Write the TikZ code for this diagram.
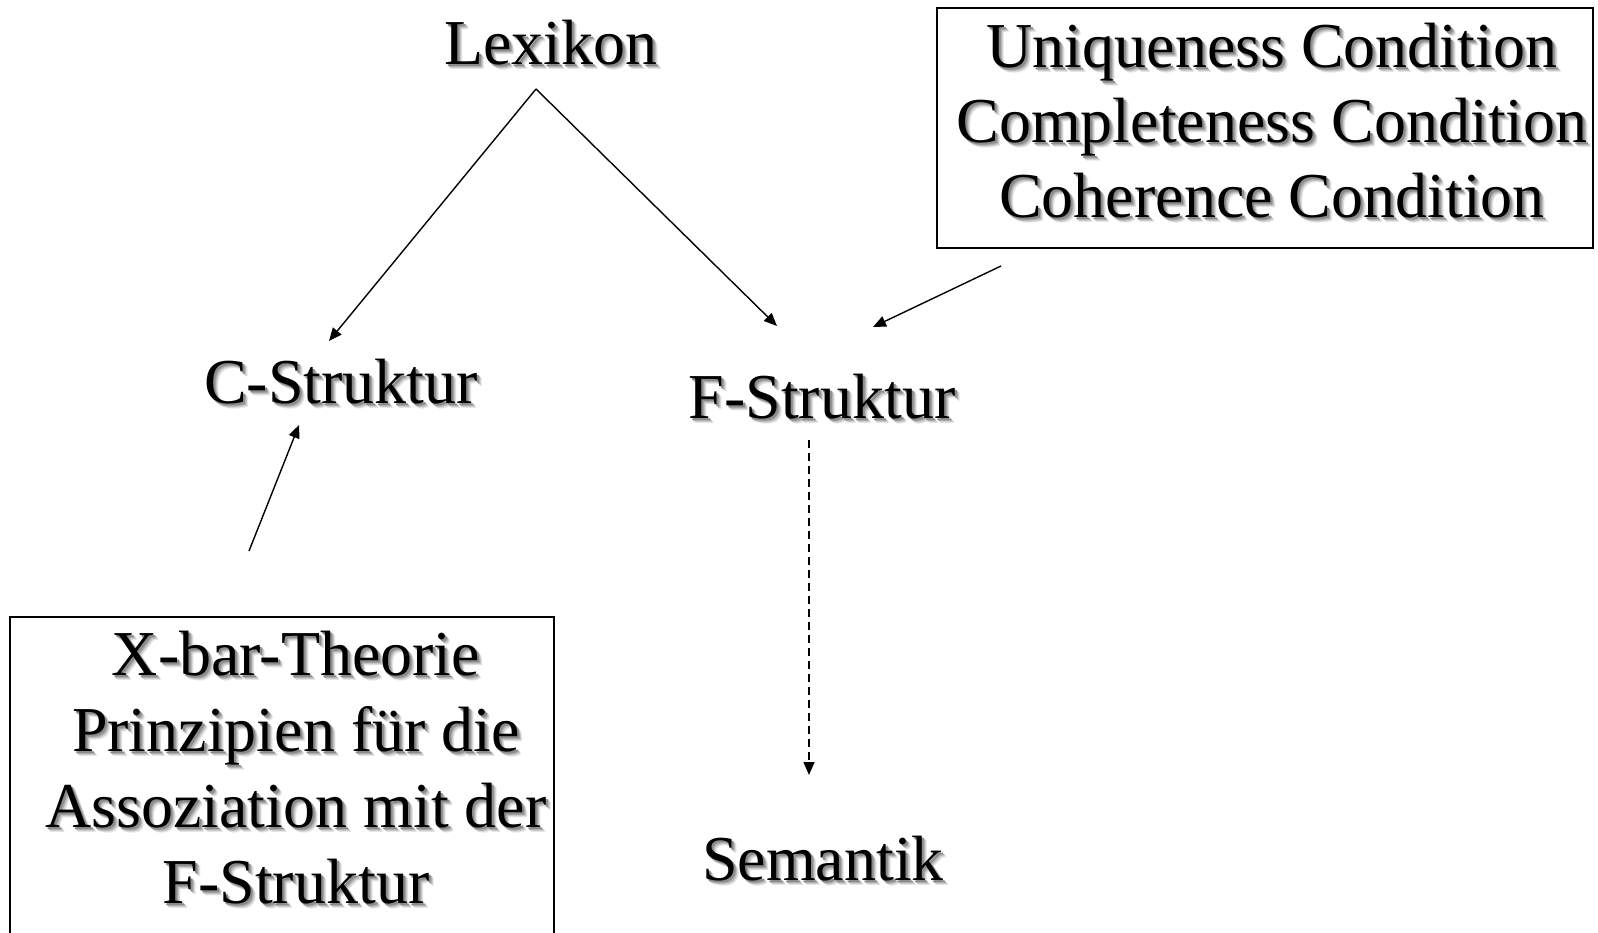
\documentclass[tikz,border=0pt]{standalone}
\usepackage{fontspec}
\setmainfont{Liberation Serif}
\usetikzlibrary{arrows.meta}
% text with a soft grey drop shadow, built from layered offset copies
\newcommand\shd[1]{%
  \rlap{\kern5pt\raisebox{-5pt}{\color{black!10}#1}}%
  \rlap{\kern4pt\raisebox{-4pt}{\color{black!20}#1}}%
  \rlap{\kern3pt\raisebox{-3pt}{\color{black!32}#1}}%
  \rlap{\kern2pt\raisebox{-2pt}{\color{black!45}#1}}%
  #1}
\tikzset{
  txt/.style={inner sep=0pt, font=\fontsize{64}{75}\selectfont, align=center},
  framebox/.style={draw, line width=1.6pt, inner sep=0pt},
  link/.style={line width=1.4pt, -{Triangle[length=13pt,width=11pt]}},
  dashlink/.style={link, dash pattern=on 8pt off 5pt}
}
\begin{document}
\begin{tikzpicture}[x=1pt, y=-1pt]
  \useasboundingbox (0,0) rectangle (1598,933);
  \clip (0,0) rectangle (1598,933);
  \fill[white] (0,0) rectangle (1598,933);

  % structure levels
  \node[txt, anchor=base] (lex) at (551,65) {\shd{Lexikon}};
  \node[txt, anchor=base] (cs)  at (341,403) {\shd{C-Struktur}};
  \node[txt, anchor=base] (fs)  at (822,418) {\shd{F-Struktur}};
  \node[txt, anchor=base] (sem) at (823,880) {\shd{Semantik}};

  % well-formedness conditions (base = baseline of the last line)
  \node[framebox, minimum width=656pt, minimum height=240pt] (cbox) at (1265,128) {};
  \node[txt, anchor=base] (ctext) at (1272,218)
    {\shd{Uniqueness Condition}\\\shd{Completeness Condition}\\\shd{Coherence Condition}};

  % principles of the c-structure
  \node[framebox, anchor=north west, minimum width=544pt, minimum height=360pt] (xbox) at (9,616) {};
  \node[txt, anchor=base, font=\fontsize{64}{76}\selectfont] (xtext) at (296,903)
    {\shd{X-bar-Theorie}\\\shd{Prinzipien für die}\\\shd{Assoziation mit der}\\\shd{F-Struktur}};

  % connector end points
  \coordinate (lexout) at (536,89);
  \coordinate (csin)   at (329,341);
  \coordinate (fsin)   at (777,326);
  \coordinate (cout)   at (1001,266);
  \coordinate (fsin2)  at (873,327);
  \coordinate (xout)   at (249,551);
  \coordinate (csin2)  at (299,425);
  \coordinate (fsout)  at (809,440);
  \coordinate (semin)  at (809,775);

  \draw[link] (lexout) -- (csin);
  \draw[link] (lexout) -- (fsin);
  \draw[link] (cout) -- (fsin2);
  \draw[link] (xout) -- (csin2);
  \draw[dashlink] (fsout) -- (semin);
\end{tikzpicture}
\end{document}
